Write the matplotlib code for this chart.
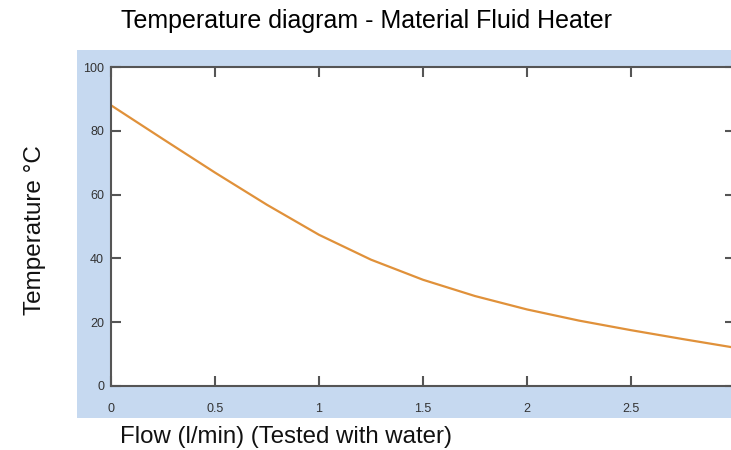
import matplotlib
matplotlib.use("Agg")
import matplotlib.pyplot as plt
from matplotlib.patches import Rectangle

plt.rcParams['font.family'] = ['Liberation Sans', 'DejaVu Sans']

# flow (l/min) vs outlet temperature
flow = [0, 0.25, 0.5, 0.75, 1.0, 1.25, 1.5, 1.75, 2.0, 2.25, 2.5, 2.75, 3.0]
temp = [88, 77.4, 66.9, 56.8, 47.4, 39.6, 33.3, 28.2, 24.0, 20.5, 17.5, 14.7, 12.0]

xticks = [0, 0.5, 1, 1.5, 2, 2.5]
xticklabels = ["0", "0.5", "1", "1.5", "2", "2.5"]
yticks = [0, 20, 40, 60, 80, 100]

W, H = 731, 450
fig = plt.figure(figsize=(W / 100, H / 100), dpi=100)

# light blue panel behind the axes
fig.patches.append(Rectangle((77 / W, 1 - 418 / H), 1, (418 - 50) / H,
                             transform=fig.transFigure, facecolor="#c6d9f0",
                             edgecolor="none", zorder=-1))

ax = fig.add_axes([111 / W, 1 - 386 / H, (735 - 111) / W, (386 - 67) / H])
ax.set_facecolor("white")
ax.plot(flow, temp, color="#e0913a", lw=1.6, solid_joinstyle="round")

ax.set_xlim(0, 3)
ax.set_ylim(0, 100)
ax.set_xticks(xticks)
ax.set_xticklabels(xticklabels)
ax.set_yticks(yticks)

for s in ax.spines.values():
    s.set_color("#555555")
    s.set_linewidth(1.5)

ax.tick_params(axis="x", direction="in", length=7, width=1.5, color="#555555",
               labelsize=9, labelcolor="#333333", pad=12, top=True)
ax.tick_params(axis="y", direction="in", length=7, width=1.5, color="#555555",
               labelsize=9, labelcolor="#333333", pad=5, right=True)

fig.text(367 / W, 1 - 21 / H, "Temperature diagram - Material Fluid Heater",
         ha="center", va="center", fontsize=18, color="black")
fig.text(35 / W, 1 - 230 / H, "Temperature °C", rotation=90,
         ha="center", va="center", fontsize=17.5, color="#111111")
fig.text(120 / W, 1 - 437 / H, "Flow (l/min) (Tested with water)",
         ha="left", va="center", fontsize=17.3, color="#111111")

fig.savefig("out.png", dpi=100)
